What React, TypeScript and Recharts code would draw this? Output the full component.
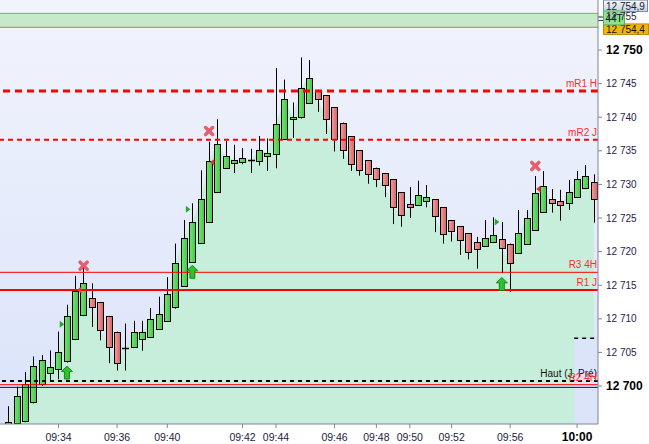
import React from "react";
import {
  ComposedChart,
  Bar,
  Area,
  Scatter,
  XAxis,
  YAxis,
  ReferenceLine,
  ReferenceArea,
  CartesianGrid,
} from "recharts";

// OHLC of the 44-tick candles, left to right
const opens = [
  12694.0, 12694.45, 12694.8, 12697.6, 12700.3, 12702.0, 12702.5, 12703.7, 12706.95, 12710.5,
  12713.05, 12712.45, 12710.4, 12708.1, 12705.7, 12705.75, 12706.95, 12707.3, 12708.5, 12709.7,
  12711.7, 12714.9, 12718.5, 12721.3, 12724.45, 12728.9, 12732.5, 12733.2, 12733.4, 12733.6,
  12733.5, 12734.3, 12734.5, 12736.7, 12739.7, 12740.0, 12742.1, 12744.0, 12743.3, 12741.5,
  12739.2, 12737.2, 12735.1, 12733.6, 12732.5, 12731.65, 12730.8, 12728.8, 12727.1, 12726.9,
  12727.6, 12727.8, 12726.6, 12724.65, 12723.8, 12722.7, 12721.4, 12720.8, 12721.4, 12721.9,
  12721.2, 12719.75, 12721.2, 12723.2, 12725.9, 12727.8, 12727.5, 12727.2, 12728.1, 12729.4,
  12730.3,
];
const highs = [
  12697.0, 12699.9, 12702.1, 12704.4, 12704.6, 12705.3, 12708.1, 12712.1, 12716.4, 12717.75,
  12715.3, 12712.5, 12710.4, 12708.1, 12709.3, 12709.7, 12709.7, 12711.6, 12713.3, 12716.2,
  12721.2, 12724.7, 12727.2, 12732.1, 12736.35, 12739.7, 12736.5, 12735.9, 12735.4, 12735.3,
  12737.2, 12736.85, 12747.3, 12745.6, 12742.2, 12748.9, 12748.5, 12744.1, 12743.3, 12741.5,
  12739.2, 12737.2, 12735.1, 12733.6, 12732.5, 12731.65, 12730.8, 12728.8, 12729.6, 12730.55,
  12729.9, 12727.8, 12726.6, 12724.65, 12723.8, 12722.7, 12722.2, 12724.7, 12725.1, 12724.4,
  12721.2, 12726.2, 12726.2, 12731.25, 12732.0, 12729.3, 12729.2, 12730.65, 12732.0, 12732.9,
  12731.5,
];
const lows = [
  12693.6, 12694.3, 12694.6, 12697.4, 12700.0, 12700.6, 12701.0, 12703.5, 12706.9, 12710.4,
  12708.8, 12706.8, 12703.4, 12702.3, 12702.3, 12705.7, 12705.25, 12707.2, 12708.4, 12709.6,
  12711.5, 12714.8, 12718.4, 12721.2, 12724.3, 12728.8, 12732.3, 12731.7, 12733.0, 12731.7,
  12732.8, 12732.0, 12732.4, 12736.6, 12736.9, 12739.8, 12742.0, 12740.8, 12737.5, 12734.9,
  12733.8, 12732.0, 12731.3, 12730.1, 12729.6, 12728.1, 12724.1, 12723.7, 12725.0, 12726.8,
  12726.6, 12722.9, 12721.2, 12721.5, 12719.5, 12718.85, 12717.45, 12720.7, 12721.3, 12716.8,
  12714.0, 12719.7, 12721.1, 12723.1, 12725.8, 12725.8, 12724.6, 12726.2, 12728.0, 12729.3,
  12724.3,
];
const closes = [
  12694.7, 12698.5, 12700.3, 12703.0, 12703.9, 12702.8, 12705.0, 12710.4, 12714.2, 12715.4,
  12711.8, 12708.4, 12705.75, 12703.4, 12705.7, 12708.0, 12708.0, 12709.9, 12710.7, 12713.7,
  12718.3, 12722.1, 12724.4, 12727.8, 12733.5, 12736.0, 12734.2, 12733.6, 12733.9, 12733.6,
  12735.1, 12734.7, 12739.0, 12742.7, 12740.1, 12744.3, 12745.9, 12742.7, 12739.7, 12736.8,
  12735.1, 12733.1, 12732.1, 12731.5, 12730.8, 12729.9, 12726.7, 12725.4, 12726.7, 12728.4,
  12728.1, 12725.25, 12722.6, 12723.0, 12721.7, 12719.9, 12720.35, 12722.0, 12722.4, 12720.5,
  12718.35, 12722.7, 12724.95, 12728.7, 12729.7, 12727.3, 12727.0, 12728.8, 12730.75, 12731.2,
  12727.9,
];

// time labels sit on these candles
const tickIdx = [6, 13, 19, 28, 32, 39, 44, 48, 53, 60, 68];
const tickLabels = ["09:34", "09:36", "09:40", "09:42", "09:44", "09:46", "09:48", "09:50", "09:52", "09:56", "10:00"];
const priceTicks = [12700, 12705, 12710, 12715, 12720, 12725, 12730, 12735, 12740, 12745, 12750, 12755];

// signal markers (candle position, price)
const crossIdx = [9, 24, 63];
const crossPrice = [12717.9, 12737.95, 12732.75];
const sellIdx = [8.5, 24.4, 63.4];
const sellPrice = [12714.3, 12733.3, 12729.3];
const buyIdx = [6.38, 21.46, 58.4];
const buyPrice = [12709.2, 12726.3, 12724.4];
const arrowIdx = [7, 22, 59];
const arrowPrice = [12702.0, 12717.0, 12715.2];

// pivot levels
const levelNames = ["mR1 H", "mR2 J", "R3 4H", "R1 J", "Haut (J. Pré)", "R2 4H"];
const levelPrices = [12743.9, 12736.65, 12716.92, 12714.29, 12700.74, 12700.2];
const bluePrice = 12699.8;
const prevHigh = 12707.1;
const bandTop = 12755.45;
const bandBottom = 12753.38;
const lastHigh = 12754.9;
const lastPrice = 12754.4;
const barLabel = "44T";

const candles = opens.map((o, i) => ({
  i,
  open: o,
  high: highs[i],
  low: lows[i],
  close: closes[i],
}));
const crosses = crossIdx.map((i, k) => ({ i, p: crossPrice[k] }));
const sells = sellIdx.map((i, k) => ({ i, p: sellPrice[k] }));
const buys = buyIdx.map((i, k) => ({ i, p: buyPrice[k] }));
const arrows = arrowIdx.map((i, k) => ({ i, p: arrowPrice[k] }));

const FONT = "'Liberation Sans', Arial, sans-serif";
const fmtPrice = (v: number) => {
  const s = String(v);
  return s.slice(0, 2) + " " + s.slice(2);
};
const fmtTag = (v: number) => fmtPrice(Math.floor(v)) + "," + String(v.toFixed(1)).slice(-1);

const Candle = (props: any) => {
  const { x, y, width, height, payload } = props;
  if (!payload) return null;
  const { open, close, high, low } = payload;
  const top = Math.min(y, y + height);
  const h = Math.abs(height);
  const k = high > low ? h / (high - low) : 0;
  const cx = Math.round(x + width / 2) + 0.5;
  const oy = top + (high - open) * k;
  const cy = top + (high - close) * k;
  const up = close > open;
  const down = close < open;
  const bTop = Math.round(Math.min(oy, cy)) + 0.5;
  const bBot = Math.round(Math.max(oy, cy)) + 0.5;
  return (
    <g>
      <line x1={cx} x2={cx} y1={top} y2={top + h} stroke="#000" />
      {up || down ? (
        <rect
          x={cx - 3}
          y={bTop}
          width={6}
          height={Math.max(bBot - bTop, 1)}
          fill={up ? "url(#gUp)" : "url(#gDn)"}
          stroke="#000"
        />
      ) : (
        <line x1={cx - 3.5} x2={cx + 3.5} y1={bTop} y2={bTop} stroke="#000" strokeWidth={1.5} />
      )}
    </g>
  );
};

const CrossMark = ({ cx, cy }: any) => (
  <g stroke="#e4505e" strokeWidth={3.5} strokeLinecap="round" opacity={0.9}>
    <line x1={cx - 3.5} y1={cy - 3.5} x2={cx + 3.5} y2={cy + 3.5} />
    <line x1={cx - 3.5} y1={cy + 3.5} x2={cx + 3.5} y2={cy - 3.5} />
  </g>
);

const SellMark = ({ cx, cy }: any) => (
  <path d={`M${cx + 2},${cy - 3.5} L${cx - 2.5},${cy} L${cx + 2},${cy + 3.5} Z`} fill="#e03838" />
);

const BuyMark = ({ cx, cy }: any) => (
  <path d={`M${cx - 2},${cy - 3.5} L${cx + 2.5},${cy} L${cx - 2},${cy + 3.5} Z`} fill="#22aa22" />
);

const UpArrow = ({ cx, cy }: any) => (
  <path
    d={`M${cx},${cy - 6.5} L${cx + 5.5},${cy - 1} L${cx + 2.5},${cy - 1} L${cx + 2.5},${cy + 6.5} L${cx - 2.5},${cy + 6.5} L${cx - 2.5},${cy - 1} L${cx - 5.5},${cy - 1} Z`}
    fill="#2ec22e"
    stroke="#128a12"
    strokeWidth={1}
  />
);

const levelLabel = (text: string, color: string) => (props: any) => {
  const { viewBox } = props;
  if (!viewBox) return null;
  return (
    <text
      x={viewBox.x + viewBox.width - 1}
      y={viewBox.y - 4}
      textAnchor="end"
      fontSize={10}
      fontFamily={FONT}
      fill={color}
    >
      {text}
    </text>
  );
};

// boxes at the top of the price scale
const HighTag = (props: any) => {
  const { viewBox } = props;
  if (!viewBox) return null;
  const x0 = viewBox.x + viewBox.width;
  const ly = viewBox.y;
  return (
    <g fontFamily={FONT} fontSize={10}>
      <line x1={x0} x2={x0 + 5} y1={ly} y2={ly} stroke="#333" />
      <rect x={x0 + 5.5} y={ly - 17} width={44} height={11.5} fill="url(#gTag)" stroke="#7888a8" />
      <text x={x0 + 8} y={ly - 7.5} fill="#1a1a2a">
        {fmtTag(lastHigh)}
      </text>
    </g>
  );
};

const LastTag = (props: any) => {
  const { viewBox } = props;
  if (!viewBox) return null;
  const x0 = viewBox.x + viewBox.width;
  const ly = viewBox.y;
  return (
    <g fontFamily={FONT} fontSize={10}>
      <line x1={x0} x2={x0 + 5} y1={ly} y2={ly} stroke="#333" />
      <rect x={x0 + 5.5} y={ly + 3.5} width={45} height={10.5} fill="#f2b705" stroke="#c08a00" />
      <text x={x0 + 8} y={ly + 12.5} fill="#111">
        {fmtTag(lastPrice)}
      </text>
      <rect x={x0 + 5.5} y={ly - 9.5} width={21} height={14} fill="#8fe08f" stroke="#5fb05f" />
      <text x={x0 + 7.5} y={ly + 1.5} fill="#111">
        {barLabel}
      </text>
    </g>
  );
};

const PriceTick = ({ x, y, payload }: any) => {
  const v = payload.value;
  const bold = v % 50 === 0;
  return (
    <text
      x={x}
      y={y}
      dy={bold ? 4.3 : 3.6}
      textAnchor="start"
      fontFamily={FONT}
      fontSize={bold ? 12 : 10}
      fontWeight={bold ? "bold" : "normal"}
      fill={bold ? "#000" : "#2a1a48"}
    >
      {fmtPrice(v)}
    </text>
  );
};

const TimeTick = ({ x, y, payload }: any) => {
  const k = tickIdx.indexOf(payload.value);
  const label = k >= 0 ? tickLabels[k] : "";
  const bold = label === "10:00";
  return (
    <text
      x={x}
      y={y}
      dy={10.7}
      textAnchor="middle"
      fontFamily={FONT}
      fontSize={bold ? 12 : 10.5}
      fontWeight={bold ? "bold" : "normal"}
      fill={bold ? "#000" : "#1c1c3c"}
    >
      {label}
    </text>
  );
};

export default function App() {
  return (
    <div style={{ position: "absolute", left: 0, top: 0, width: 649, height: 444, background: "#fff" }}>
      <ComposedChart width={649} height={444} data={candles} margin={{ top: 0, right: 0, bottom: 0, left: 0 }}>
        <defs>
          <linearGradient id="bgGrad" x1="0" y1="0" x2="0" y2="1">
            <stop offset="0%" stopColor="#f2f4fc" />
            <stop offset="100%" stopColor="#dae3fa" />
          </linearGradient>
          <linearGradient id="gUp" x1="0" y1="0" x2="1" y2="0">
            <stop offset="0%" stopColor="#74e474" />
            <stop offset="100%" stopColor="#44c844" />
          </linearGradient>
          <linearGradient id="gDn" x1="0" y1="0" x2="1" y2="0">
            <stop offset="0%" stopColor="#f4a0a0" />
            <stop offset="100%" stopColor="#d86262" />
          </linearGradient>
          <linearGradient id="gTag" x1="0" y1="0" x2="0" y2="1">
            <stop offset="0%" stopColor="#f6f8fc" />
            <stop offset="100%" stopColor="#c8d2e6" />
          </linearGradient>
        </defs>
        <CartesianGrid fill="url(#bgGrad)" horizontal={false} vertical={false} stroke="none" />
        <XAxis
          type="number"
          dataKey="i"
          domain={[-1, 70.5]}
          allowDataOverflow
          ticks={tickIdx}
          interval={0}
          tick={<TimeTick />}
          tickSize={4}
          tickMargin={2}
          height={20}
          axisLine={{ stroke: "#7a8898" }}
          tickLine={{ stroke: "#7a8898" }}
        />
        <YAxis
          type="number"
          orientation="right"
          domain={[12694.35, 12757.44]}
          allowDataOverflow
          ticks={priceTicks}
          interval={0}
          tick={<PriceTick />}
          tickSize={4}
          tickMargin={4}
          width={51}
          axisLine={{ stroke: "#7a8898" }}
          tickLine={{ stroke: "#7a8898" }}
        />

        <ReferenceArea y1={bandBottom} y2={bandTop} fill="#c6eac8" fillOpacity={1} stroke="none" />
        <ReferenceLine y={bandTop} stroke="#5cc05c" />
        <ReferenceLine y={bandBottom} stroke="#d86868" />

        <Area
          dataKey="close"
          type="linear"
          stroke="none"
          fill="#c6eeda"
          fillOpacity={1}
          dot={false}
          activeDot={false}
          isAnimationActive={false}
        />
        <ReferenceArea x1={67.65} x2={70.5} y1={12694.35} y2={prevHigh} fill="#dce4fa" fillOpacity={1} stroke="none" />
        <ReferenceLine
          segment={[{ x: 67.65, y: prevHigh }, { x: 70.5, y: prevHigh }]}
          stroke="#000"
          strokeWidth={1.5}
          strokeDasharray="4 4"
        />

        <Bar
          dataKey={(d: any) => [d.low, d.high]}
          barSize={7}
          shape={(p: any) => <Candle {...p} />}
          isAnimationActive={false}
        />

        <ReferenceLine y={levelPrices[0]} stroke="#ff0000" strokeWidth={3} strokeDasharray="7 5" label={levelLabel(levelNames[0], "#ff2a2a")} />
        <ReferenceLine y={levelPrices[1]} stroke="#ff0000" strokeWidth={2} strokeDasharray="5 4" label={levelLabel(levelNames[1], "#ff2a2a")} />
        <ReferenceLine y={levelPrices[2]} stroke="#ff0000" strokeWidth={1} label={levelLabel(levelNames[2], "#ff2a2a")} />
        <ReferenceLine y={levelPrices[3]} stroke="#ff0000" strokeWidth={2} label={levelLabel(levelNames[3], "#ff2a2a")} />
        <ReferenceLine y={levelPrices[4]} stroke="#000" strokeWidth={2} strokeDasharray="4 4" label={levelLabel(levelNames[4], "#111")} />
        <ReferenceLine y={levelPrices[5]} stroke="#ff0000" strokeWidth={1} label={levelLabel(levelNames[5], "#ff2a2a")} />
        <ReferenceLine y={bluePrice} stroke="#0000c8" strokeWidth={1} />

        <Scatter data={crosses} dataKey="p" shape={(p: any) => <CrossMark {...p} />} isAnimationActive={false} />
        <Scatter data={sells} dataKey="p" shape={(p: any) => <SellMark {...p} />} isAnimationActive={false} />
        <Scatter data={buys} dataKey="p" shape={(p: any) => <BuyMark {...p} />} isAnimationActive={false} />
        <Scatter data={arrows} dataKey="p" shape={(p: any) => <UpArrow {...p} />} isAnimationActive={false} />

        <ReferenceLine y={lastHigh} stroke="none" label={(p: any) => <HighTag {...p} />} />
        <ReferenceLine y={lastPrice} stroke="none" label={(p: any) => <LastTag {...p} />} />
      </ComposedChart>
    </div>
  );
}
